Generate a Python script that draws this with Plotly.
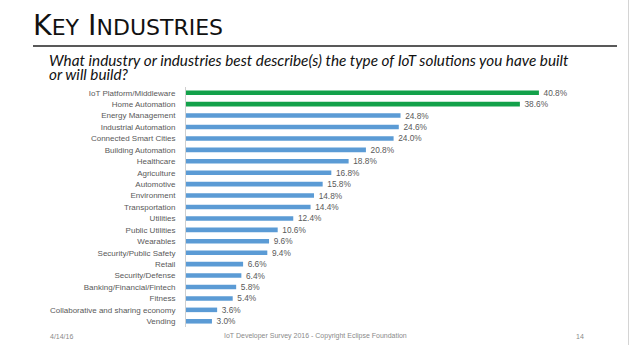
import plotly.graph_objects as go

categories = [
    "IoT Platform/Middleware", "Home Automation", "Energy Management",
    "Industrial Automation", "Connected Smart Cities", "Building Automation",
    "Healthcare", "Agriculture", "Automotive", "Environment", "Transportation",
    "Utilities", "Public Utilities", "Wearables", "Security/Public Safety",
    "Retail", "Security/Defense", "Banking/Financial/Fintech", "Fitness",
    "Collaborative and sharing economy", "Vending",
]
values = [40.8, 38.6, 24.8, 24.6, 24.0, 20.8, 18.8, 16.8, 15.8, 14.8, 14.4,
          12.4, 10.6, 9.6, 9.4, 6.6, 6.4, 5.8, 5.4, 3.6, 3.0]
highlight = ["IoT Platform/Middleware", "Home Automation"]

GREEN = "#13a14a"
BLUE = "#5b9bd5"
colors = [GREEN if c in highlight else BLUE for c in categories]

W, H = 631, 350
L, R, T, B = 186, 30, 87, 23
pw, ph = W - L - R, H - T - B


def px(x):
    return (x - L) / pw


def py(y):
    return (H - B - y) / ph


fig = go.Figure(go.Bar(
    x=values, y=categories, orientation="h",
    marker=dict(color=colors, line=dict(width=0)),
    width=0.4,
    text=[f"\u00a0\u00a0{v:.1f}%" for v in values],
    textposition="outside",
    constraintext="none",
    textfont=dict(family="Liberation Sans", size=8.3, color="#595959"),
    cliponaxis=False,
    hoverinfo="skip",
))

ann = []
ann.append(dict(
    text="K<span style='font-size:22px'>EY</span> I<span style='font-size:22px'>NDUSTRIES</span>",
    x=px(31), y=py(25), xref="paper", yref="paper", xanchor="left", yanchor="middle",
    showarrow=False, font=dict(family="DejaVu Sans", size=28.5, color="#111111"),
))
ann.append(dict(
    text="<i>What industry or industries best describe(s) the type of IoT solutions you have built</i>",
    x=px(47), y=py(60), xref="paper", yref="paper", xanchor="left", yanchor="middle",
    showarrow=False, font=dict(family="Lato", size=15.3, color="#111111"),
))
ann.append(dict(
    text="<i>or will build?</i>",
    x=px(47), y=py(74), xref="paper", yref="paper", xanchor="left", yanchor="middle",
    showarrow=False, font=dict(family="Lato", size=15.3, color="#111111"),
))
footer_font = dict(family="Liberation Sans", size=7, color="#8a8a8a")
ann.append(dict(text="4/14/16", x=px(48), y=py(336), xref="paper", yref="paper",
                xanchor="left", yanchor="middle", showarrow=False, font=footer_font))
ann.append(dict(text="IoT Developer Survey 2016 - Copyright Eclipse Foundation",
                x=px(222), y=py(336), xref="paper", yref="paper",
                xanchor="left", yanchor="middle", showarrow=False, font=footer_font))
ann.append(dict(text="14", x=px(574), y=py(336), xref="paper", yref="paper",
                xanchor="left", yanchor="middle", showarrow=False, font=footer_font))

shapes = [
    dict(type="line", xref="paper", yref="paper", x0=px(33), x1=px(617),
         y0=py(46), y1=py(46), line=dict(color="#222222", width=1.5)),
    dict(type="line", xref="paper", yref="paper", x0=px(628.5), x1=px(628.5),
         y0=py(0), y1=py(345), line=dict(color="#d4d4d4", width=1)),
]

fig.update_layout(
    width=W, height=H, autosize=False,
    margin=dict(l=L, r=R, t=T, b=B, pad=0),
    paper_bgcolor="white", plot_bgcolor="white",
    showlegend=False,
    annotations=ann, shapes=shapes,
    xaxis=dict(range=[0, pw / 8.65], visible=False, showgrid=False, zeroline=False),
    yaxis=dict(
        range=[len(categories) - 0.5, -0.5], type="category",
        showline=True, linecolor="#d0d0d0", linewidth=1,
        ticks="outside", ticklen=8, tickcolor="rgba(0,0,0,0)",
        tickfont=dict(family="Liberation Sans", size=8, color="#595959"),
        showgrid=False, zeroline=False,
    ),
)

fig.write_html("out.html")
